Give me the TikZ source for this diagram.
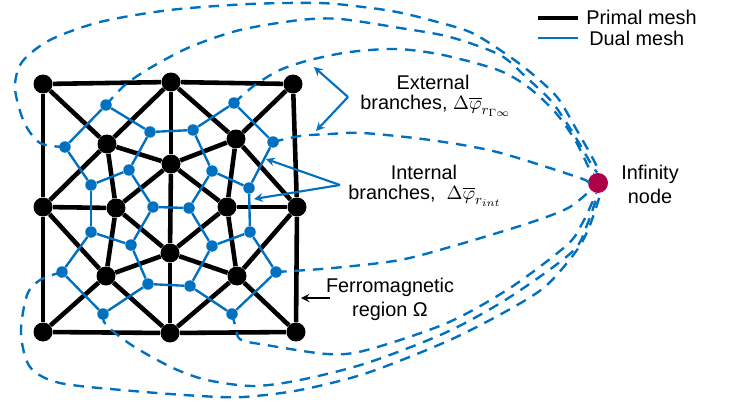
\documentclass[tikz,border=0pt]{standalone}
\usepackage{amsmath,amssymb}
\usepackage{fontspec}
\setmainfont{Liberation Sans}
\definecolor{dualblue}{HTML}{0070C0}
\definecolor{infred}{HTML}{AD0048}
\tikzset{
  primal/.style={shape=circle,fill=black,inner sep=0pt,minimum size=0.38cm},
  dual/.style={shape=circle,fill=dualblue,inner sep=0pt,minimum size=0.23cm},
  primaledge/.style={line width=2.6pt,black},
  dualedge/.style={line width=1.35pt,dualblue},
  branch/.style={line width=1.35pt,dualblue,dash pattern=on 6pt off 4.5pt},
  callout/.style={line width=1.2pt,dualblue,-stealth},
  lbl/.style={align=center,inner sep=0pt,font=\fontsize{11.3}{13.6}\selectfont}
}
\newcommand{\primalnode}[3]{\node[primal] (#1) at (#2,#3) {};}
\newcommand{\dualnode}[3]{\node[dual] (#1) at (#2,#3) {};}
\begin{document}
\begin{tikzpicture}[x=0.02cm,y=-0.02cm]
        \useasboundingbox (0,0) rectangle (730,402);
        %primal nodes
        \primalnode{pa}{43}{84}
        \primalnode{pb}{171}{82}
        \primalnode{pc}{293}{84}
        \primalnode{pd}{43}{207}
        \primalnode{pe}{297}{207}
        \primalnode{pf}{43}{332}
        \primalnode{pg}{170}{333}
        \primalnode{ph}{296}{332}
        \primalnode{pi}{107}{144}
        \primalnode{pj}{236}{139}
        \primalnode{pk}{171}{164}
        \primalnode{pl}{116}{208}
        \primalnode{pm}{227}{207}
        \primalnode{pn}{170}{253}
        \primalnode{po}{106}{276}
        \primalnode{pq}{237}{276}

        %primal edges
        \draw[primaledge] (pa) -- (pb);
        \draw[primaledge] (pb) -- (pc);
        \draw[primaledge] (pc) -- (pe);
        \draw[primaledge] (pe) -- (ph);
        \draw[primaledge] (ph) -- (pg);
        \draw[primaledge] (pg) -- (pf);
        \draw[primaledge] (pf) -- (pd);
        \draw[primaledge] (pd) -- (pa);

        \draw[primaledge] (pa) -- (pi);
        \draw[primaledge] (pd) -- (pi);
        \draw[primaledge] (pb) -- (pi);
        \draw[primaledge] (pk) -- (pi);
        \draw[primaledge] (pl) -- (pi);
        \draw[primaledge] (pb) -- (pk);
        \draw[primaledge] (pb) -- (pj);
        \draw[primaledge] (pc) -- (pj);
        \draw[primaledge] (pk) -- (pj);
        \draw[primaledge] (pm) -- (pj);
        \draw[primaledge] (pe) -- (pj);

        \draw[primaledge] (pd) -- (pl);
        \draw[primaledge] (pk) -- (pl);
        \draw[primaledge] (pn) -- (pl);
        \draw[primaledge] (po) -- (pl);
        \draw[primaledge] (pk) -- (pn);
        \draw[primaledge] (pk) -- (pm);
        \draw[primaledge] (pe) -- (pm);
        \draw[primaledge] (pn) -- (pm);
        \draw[primaledge] (pq) -- (pm);
        \draw[primaledge] (pe) -- (pq);

        \draw[primaledge] (pn) -- (pg);
        \draw[primaledge] (pn) -- (po);
        \draw[primaledge] (pn) -- (pq);
        \draw[primaledge] (pd) -- (po);
        \draw[primaledge] (pf) -- (po);
        \draw[primaledge] (pg) -- (po);
        \draw[primaledge] (pg) -- (pq);
        \draw[primaledge] (ph) -- (pq);

        %dual nodes
        \dualnode{da}{106}{105}
        \dualnode{db}{150}{132}
        \dualnode{dc}{193}{130}
        \dualnode{dd}{234}{103}
        \dualnode{de}{65}{147}
        \dualnode{df}{273}{142}
        \dualnode{dg}{129}{170}
        \dualnode{dh}{212}{171}
        \dualnode{di}{91}{185}
        \dualnode{dj}{249}{188}
        \dualnode{dk}{153}{207}
        \dualnode{dl}{189}{208}
        \dualnode{dm}{91}{232}
        \dualnode{dn}{250}{232}
        \dualnode{do}{131}{245}
        \dualnode{dp}{212}{246}
        \dualnode{dq}{62}{272}
        \dualnode{dr}{276}{272}
        \dualnode{ds}{148}{284}
        \dualnode{dt}{190}{286}
        \dualnode{du}{103}{314}
        \dualnode{dv}{232}{314}

        %dual edges
        \draw[dualedge] (da) -- (db);
        \draw[dualedge] (da) -- (de);
        \draw[dualedge] (de) -- (di);
        \draw[dualedge] (di) -- (dg);
        \draw[dualedge] (dg) -- (db);
        \draw[dualedge] (dg) -- (dk);
        \draw[dualedge] (db) -- (dc);
        \draw[dualedge] (dc) -- (dd);
        \draw[dualedge] (dd) -- (df);
        \draw[dualedge] (df) -- (dj);
        \draw[dualedge] (dj) -- (dh);
        \draw[dualedge] (dh) -- (dc);
        \draw[dualedge] (dh) -- (dl);
        \draw[dualedge] (dk) -- (dl);
        \draw[dualedge] (dj) -- (dn);
        \draw[dualedge] (di) -- (dm);
        \draw[dualedge] (dm) -- (do);
        \draw[dualedge] (do) -- (dk);
        \draw[dualedge] (dm) -- (dq);
        \draw[dualedge] (dq) -- (du);
        \draw[dualedge] (du) -- (ds);
        \draw[dualedge] (ds) -- (do);
        \draw[dualedge] (ds) -- (dt);
        \draw[dualedge] (dt) -- (dp);
        \draw[dualedge] (dp) -- (dl);
        \draw[dualedge] (dp) -- (dn);
        \draw[dualedge] (dn) -- (dr);
        \draw[dualedge] (dr) -- (dv);
        \draw[dualedge] (dv) -- (dt);

        %infinity node
        \node[shape=circle,fill=infred,inner sep=0pt,minimum size=0.4cm] (inf) at (598,183) {};

        %branches
        \draw[branch] plot[smooth] coordinates {(de) (40,143) (24,122) (15,88) (22,62) (50,40) (100,22) (170,10) (250,4) (320,3) (363,7) (397,12) (430,20) (470,32) (503,52) (530,72) (557,97) (575,127) (592,157) (inf.80)};
        \draw[branch] plot[smooth] coordinates {(da) (125,85) (150,68) (190,47) (240,30) (300,20) (340,19) (400,28) (450,37) (500,55) (527,78) (552,102) (573,133) (590,162) (inf.95)};
        \draw[branch] plot[smooth] coordinates {(dd) (255,85) (280,70) (310,60) (350,52) (397,49) (443,55) (498,70) (528,87) (555,112) (575,140) (590,170) (inf.115)};
        \draw[branch] plot[smooth] coordinates {(df) (300,136) (330,134) (363,133) (430,140) (497,152) (580,178) (inf.west)};
        \draw[branch] plot[smooth] coordinates {(dr) (333,268) (400,260) (457,245) (523,225) (557,213) (573,205) (inf.225)};
        \draw[branch] plot[smooth] coordinates {(dv) (235,325) (238,337) (244,341) (260,344) (327,354) (367,350) (447,323) (510,288) (567,245) (583,222) (inf.260)};
        \draw[branch] plot[smooth] coordinates {(du) (106,325) (133,346) (173,368) (207,380) (253,386) (300,380) (367,363) (447,332) (510,297) (572,252) (587,225) (inf.270)};
        \draw[branch] plot[smooth] coordinates {(dq) (40,280) (27,295) (21,333) (30,367) (60,383) (133,391) (200,396) (243,397) (300,390) (367,373) (450,340) (512,308) (547,285) (577,250) (590,225) (inf.285)};

        %callouts
        \coordinate (extj) at (348,97);
        \coordinate (exta) at (314,67);
        \coordinate (extb) at (316,131);
        \coordinate (intj) at (340,185);
        \coordinate (inta) at (266,159);
        \coordinate (intb) at (254,199);
        \draw[callout] (extj) -- (exta);
        \draw[callout] (extj) -- (extb);
        \draw[callout] (intj) -- (inta);
        \draw[callout] (intj) -- (intb);
        \coordinate (ferroa) at (330,298);
        \coordinate (ferrob) at (301,298);
        \draw[line width=1.1pt,-stealth] (ferroa) -- (ferrob);

        %legend
        \coordinate (lega) at (538,18);
        \coordinate (legb) at (578,18);
        \coordinate (legc) at (538,38);
        \coordinate (legd) at (578,38);
        \draw[line width=2.2pt,black] (lega) -- (legb);
        \draw[dualedge] (legc) -- (legd);

        %labels
        \node[lbl,anchor=west] (primallbl) at (586,17) {Primal mesh};
        \node[lbl,anchor=west] (duallbl) at (589,38) {Dual mesh};
        \node[lbl] (extlbl) at (433,82) {External};
        \node[lbl,anchor=west] (extbr) at (360,106) {branches, $\Delta\overline{\varphi}_{r_{\Gamma\infty}}$};
        \node[lbl] (intlbl) at (424,172) {Internal};
        \node[lbl,anchor=west] (intbr) at (348,196) {branches,\ \ $\Delta\overline{\varphi}_{r_{int}}$};
        \node[lbl] (inflbl) at (650,184) {Infinity\\node};
        \node[lbl] (ferrolbl) at (390,299) {Ferromagnetic\\region Ω};
\end{tikzpicture}
\end{document}
